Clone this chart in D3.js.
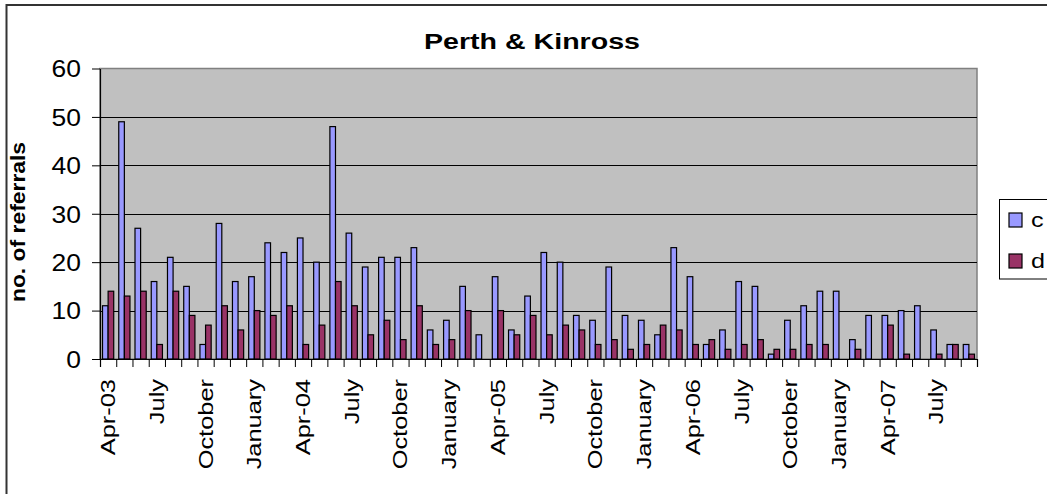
<!DOCTYPE html>
<html>
  <head>
    <meta charset="utf-8">
    <title>Perth & Kinross referrals</title>
    <script src="https://d3js.org/d3.v7.min.js"></script>
  </head>
  <body style="margin:0">

    <style>
      text { font-family: "Liberation Sans", Arial, sans-serif; fill: #000; }
      .bar { stroke: #000; stroke-width: 1.2; }
    </style>

    <div id="chart"></div>
    <script>

      var months = ["Apr-03","May","June","July","August","September","October","November","December",
        "January","February","March","Apr-04","May","June","July","August","September","October",
        "November","December","January","February","March","Apr-05","May","June","July","August",
        "September","October","November","December","January","February","March","Apr-06","May",
        "June","July","August","September","October","November","December","January","February",
        "March","Apr-07","May","June","July","August","September"];

      var cValues = [11,49,27,16,21,15,3,28,16,17,24,22,25,20,48,26,19,21,21,23,6,8,15,5,
        17,6,13,22,20,9,8,19,9,8,5,23,17,3,6,16,15,1,8,11,14,14,4,9,9,10,11,6,3,3];
      var dValues = [14,13,14,3,14,9,7,11,6,10,9,11,3,7,16,11,5,8,4,11,3,4,10,0,
        10,5,9,5,7,6,3,4,2,3,7,6,3,4,2,3,4,2,2,3,3,0,2,0,7,1,0,1,3,1];

      var seriesNames = ["c", "d"];
      var seriesColors = ["#9999FF", "#993366"];
      var yTicks = [0, 10, 20, 30, 40, 50, 60];

      var width = 1047, height = 494;
      var plot = {left: 100, right: 977, top: 68.5, bottom: 359};

      var svg = d3.select("#chart")
        .append("svg")
          .attr("width", width)
          .attr("height", height);

      svg.append("rect")
        .attr("width", width).attr("height", height)
        .attr("fill", "#fff");

      // outer chart border (only left and top visible)
      svg.append("path")
        .attr("d", "M6.5," + height + "V5H" + width)
        .attr("fill", "none")
        .attr("stroke", "#333")
        .attr("stroke-width", 2);

      var rows = months.map((m, i) => ({month: m, i: i, values: [cValues[i], dValues[i]]}));

      var x = d3.scaleBand()
        .domain(d3.range(months.length))
        .range([plot.left, plot.right])
        .paddingInner(0.31)
        .paddingOuter(0.155);

      var x1 = d3.scaleBand()
        .domain([0, 1])
        .range([0, x.bandwidth()]);

      var xEdge = d3.scaleLinear()
        .domain([0, months.length])
        .range([plot.left, plot.right]);

      var y = d3.scaleLinear()
        .domain([0, 60])
        .range([plot.bottom, plot.top]);

      // plot background
      svg.append("rect")
        .attr("x", plot.left).attr("y", plot.top)
        .attr("width", plot.right - plot.left)
        .attr("height", plot.bottom - plot.top)
        .attr("fill", "#C0C0C0")
        .attr("stroke", "#808080")
        .attr("stroke-width", 1.5);

      svg.append("g")
        .selectAll("line")
        .data(yTicks.filter((t) => t > 0 && t < 60))
        .enter().append("line")
          .attr("x1", plot.left).attr("x2", plot.right)
          .attr("y1", (d) => Math.round(y(d)) + 0.5)
          .attr("y2", (d) => Math.round(y(d)) + 0.5)
          .attr("stroke", "#000");

      // bars
      var groups = svg.append("g")
        .selectAll("g")
        .data(rows)
        .enter().append("g")
          .attr("transform", (d) => "translate(" + x(d.i) + ",0)");

      groups.selectAll("rect")
        .data((d) => d.values.map((v, k) => ({v: v, k: k})))
        .enter().append("rect")
          .attr("class", "bar")
          .attr("x", (d) => x1(d.k))
          .attr("width", x1.bandwidth())
          .attr("y", (d) => y(d.v))
          .attr("height", (d) => plot.bottom - y(d.v))
          .attr("fill", (d) => seriesColors[d.k])
          .attr("stroke-width", (d) => d.v === 0 ? 0 : 1.2);

      // y axis
      var yAxis = svg.append("g")
        .attr("transform", "translate(" + plot.left + ",0)")
        .call(d3.axisLeft(y).tickValues(yTicks).tickSize(8).tickSizeOuter(0));
      yAxis.select(".domain").attr("stroke", "#000").attr("stroke-width", 1.2);
      yAxis.selectAll(".tick line").attr("stroke", "#000");
      yAxis.selectAll(".tick text")
        .attr("x", null)
        .attr("dy", "0.36em")
        .attr("font-size", 23)
        .attr("font-family", null)
        .attr("transform", "translate(-19,0) scale(1.15,1)");

      // x axis: tick marks at category edges
      var xTicks = svg.append("g")
        .attr("transform", "translate(0," + plot.bottom + ")")
        .call(d3.axisBottom(xEdge).tickValues(d3.range(months.length + 1)).tickSize(8).tickFormat(""));
      xTicks.select(".domain").attr("stroke", "#000").attr("stroke-width", 1.2);
      xTicks.selectAll(".tick line").attr("stroke", "#000");

      // x axis: labels every third month
      var xLabels = svg.append("g")
        .attr("transform", "translate(0," + plot.bottom + ")")
        .call(d3.axisBottom(x)
          .tickValues(d3.range(0, months.length, 3))
          .tickSize(0)
          .tickFormat((i) => months[i]));
      xLabels.select(".domain").remove();
      xLabels.selectAll(".tick text")
        .attr("y", null)
        .attr("dy", null)
        .attr("font-size", 20)
        .attr("font-family", null)
        .attr("text-anchor", "end")
        .attr("transform", "translate(7,20) rotate(-90) scale(1.27,1)");

      // title
      svg.append("text")
        .attr("transform", "translate(532,49) scale(1.3,1)")
        .attr("text-anchor", "middle")
        .attr("font-size", 22)
        .attr("font-weight", "bold")
        .text("Perth & Kinross");

      // y axis title
      svg.append("text")
        .attr("transform", "translate(25,222) rotate(-90) scale(1.09,1)")
        .attr("text-anchor", "middle")
        .attr("font-size", 21)
        .attr("font-weight", "bold")
        .text("no. of referrals");

      // legend
      var legend = svg.append("g");
      legend.append("rect")
        .attr("x", 999.5).attr("y", 199.5)
        .attr("width", 60).attr("height", 79.5)
        .attr("fill", "#fff")
        .attr("stroke", "#000");

      var entries = legend.selectAll("g.entry")
        .data(seriesNames)
        .enter().append("g")
          .attr("class", "entry")
          .attr("transform", (d, k) => "translate(1009," + (213 + k * 41) + ")");
      entries.append("rect")
        .attr("width", 13).attr("height", 14)
        .attr("fill", (d, k) => seriesColors[k])
        .attr("stroke", "#000")
        .attr("stroke-width", 1.2);
      entries.append("text")
        .attr("transform", "translate(22,14) scale(1.2,1)")
        .attr("font-size", 21)
        .text((d) => d);

    </script>
  </body>
</html>
